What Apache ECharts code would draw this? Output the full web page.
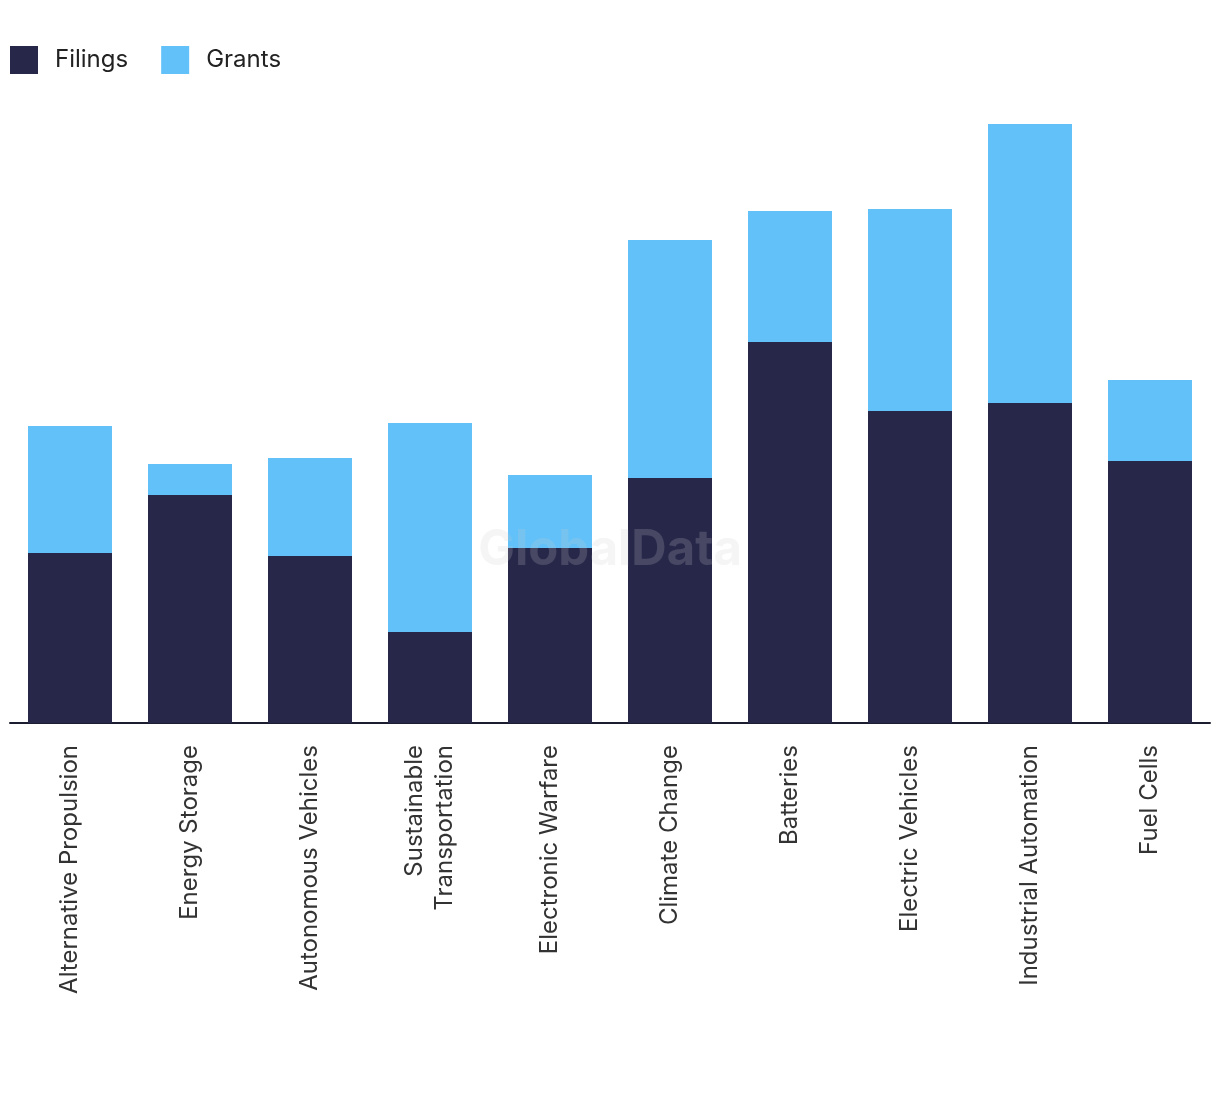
<!DOCTYPE html>
<html><head><meta charset="utf-8">
<script src="https://cdn.jsdelivr.net/npm/echarts@6/dist/echarts.min.js"></script>
<style>html,body{margin:0;padding:0;background:#fff}#c{width:1220px;height:1094px}</style>
</head><body><div id="c"></div>
<script>
const categories = ["Alternative Propulsion","Energy Storage","Autonomous Vehicles","Sustainable\nTransportation","Electronic Warfare","Climate Change","Batteries","Electric Vehicles","Industrial Automation","Fuel Cells"];
const filings = [170,228,167,91,175,245,381,312,320,262];
const grants = [127,31,98,209,73,238,131,202,279,81];

const chart = echarts.init(document.getElementById('c'));
chart.setOption({
  animation:false,
  textStyle:{fontFamily:'Inter, Roboto, sans-serif'},
  legend:{left:5,top:41,itemWidth:28,itemHeight:28,itemGap:33,icon:'rect',
    textStyle:{fontSize:24,color:'#222',padding:[0,0,0,12]},data:['Filings','Grants']},
  grid:{left:10,right:10,top:100,bottom:371,containLabel:false},
  xAxis:{type:'category',data:categories,
    axisLine:{lineStyle:{color:'#1c1c30',width:2}},axisTick:{show:false},
    axisLabel:{rotate:90,interval:0,fontSize:24,color:'#333',margin:22,lineHeight:30}},
  yAxis:{type:'value',min:0,max:623,show:false,splitLine:{show:false}},
  series:[
    {name:'Filings',type:'bar',stack:'a',data:filings,barWidth:'70%',itemStyle:{color:'#27274a'}},
    {name:'Grants',type:'bar',stack:'a',data:grants,barWidth:'70%',itemStyle:{color:'#62c1f9'}}
  ],
  graphic:[{type:'text',left:'center',top:526,z:100,silent:true,
    style:{text:'GlobalData',fontSize:49,fontWeight:'bold',fill:'rgba(206,206,206,0.2)',fontFamily:'Inter, sans-serif'}}]
});
</script></body></html>
